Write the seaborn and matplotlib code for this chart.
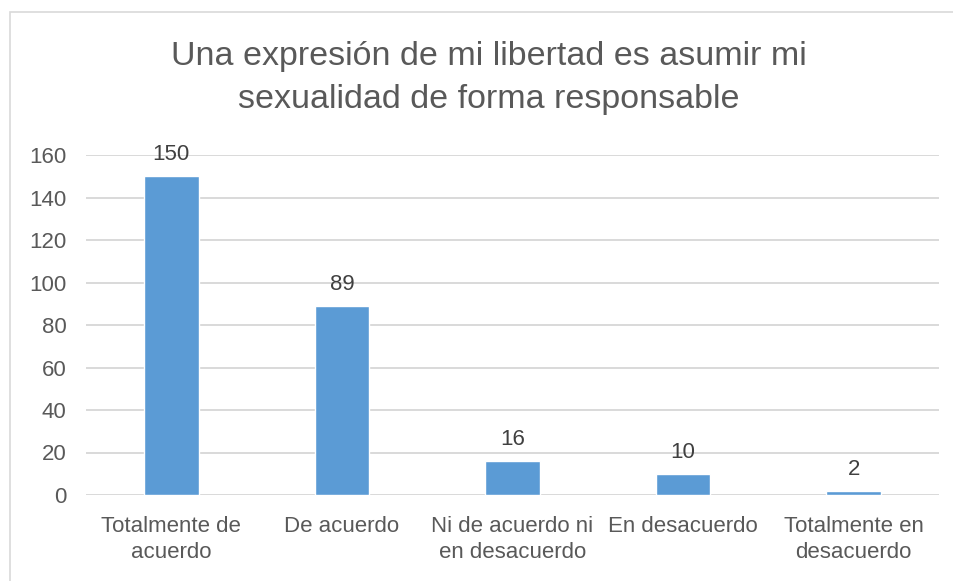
import matplotlib
matplotlib.use("Agg")
import matplotlib.pyplot as plt
import seaborn as sns
import pandas as pd
from matplotlib.patches import Rectangle

categories = ["Totalmente de\nacuerdo", "De acuerdo", "Ni de acuerdo ni\nen desacuerdo",
              "En desacuerdo", "Totalmente en\ndesacuerdo"]
values = [150, 89, 16, 10, 2]
yticks = [0, 20, 40, 60, 80, 100, 120, 140, 160]
title = "Una expresión de mi libertad es asumir mi\nsexualidad de forma responsable"

sns.set_theme(style="white")
plt.rcParams['font.family'] = ['Liberation Sans', 'DejaVu Sans']

df = pd.DataFrame({"cat": categories, "val": values})

fig = plt.figure(figsize=(9.54, 5.81), dpi=100)
ax = fig.add_axes([86/954, 1-495/581, (939-86)/954, (495-155)/581])

sns.barplot(data=df, x="cat", y="val", color="#5B9BD5", width=0.32,
            saturation=1, ax=ax, zorder=3)

ax.set_ylim(0, 160)
ax.set_yticks(yticks)
ax.set_xlim(-0.5, len(categories) - 0.5)
ax.grid(axis="y", color="#D9D9D9", linewidth=1.4, zorder=0)
ax.grid(axis="x", visible=False)
for s in ax.spines.values():
    s.set_visible(False)
ax.set_xlabel("")
ax.set_ylabel("")
ax.tick_params(axis="both", length=0, labelsize=16, colors="#595959")
ax.tick_params(axis="y", pad=14)
ax.tick_params(axis="x", pad=15)
for lbl in ax.get_xticklabels():
    lbl.set_linespacing(1.35)

for c in ax.containers:
    ax.bar_label(c, labels=[str(v) for v in values], padding=8, fontsize=16, color="#404040")

fig.text(489/954, 1-78/581, title, ha="center", va="center", fontsize=24.5,
         color="#595959", linespacing=1.5)

fig.patches.append(Rectangle((10/954, -0.1), 1.2, 1.1 - 12/581, transform=fig.transFigure,
                             fill=False, edgecolor="#D9D9D9", linewidth=1.2))

fig.savefig("out.png", dpi=100)
